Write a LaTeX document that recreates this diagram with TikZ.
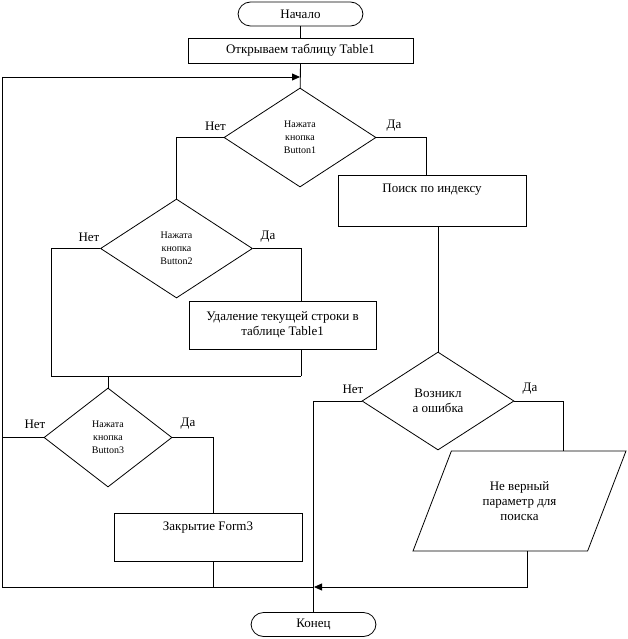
\documentclass[tikz,border=0pt]{standalone}
\usepackage{fontspec}
\setmainfont{Liberation Serif}
\usetikzlibrary{shapes.geometric,arrows.meta}
\begin{document}
\begin{tikzpicture}[x=1pt,y=-1pt,line width=0.8pt,
  every node/.style={font=\fontsize{13}{15}\selectfont},
  term/.style={draw,rectangle,rounded corners=12.5pt,minimum width=125pt,minimum height=24pt,inner sep=0pt},
  proc/.style={draw,rectangle,inner sep=0pt,align=center},
  topproc/.style={draw,rectangle,inner xsep=0pt,inner ysep=3pt,text height=14pt},
  dec/.style={draw,diamond,inner sep=0pt,align=center},
  small/.style={font=\fontsize{10}{13}\selectfont},
  io/.style={draw,trapezium,trapezium left angle=62,trapezium right angle=118,trapezium stretches=true,inner sep=0pt,align=center},
  lab/.style={inner sep=0pt},
  arr/.style={-{Triangle[length=8pt,width=7pt]}}]
\useasboundingbox (0,0) rectangle (627,639);
% nodes
\node[term] (start) at (300.5,14) {Начало};
\node[proc,minimum width=225pt,minimum height=25pt] (open) at (300.5,50.5) {Открываем таблицу Table1};
\node[dec,minimum width=152pt,minimum height=99pt,small,aspect=1.53] (d1) at (300,137.5) {Нажата\\кнопка\\Button1};
\node[topproc,minimum width=188pt,text depth=31pt] (search) at (432,201) {Поиск по индексу};
\node[dec,minimum width=152pt,minimum height=99pt,small,aspect=1.53] (d2) at (176.5,248.5) {Нажата\\кнопка\\Button2};
\node[proc,minimum width=187pt,minimum height=48pt] (del) at (282.5,325) {Удаление текущей строки в\\таблице Table1};
\node[dec,minimum width=128pt,minimum height=99pt,small,aspect=1.29] (d3) at (108,437.5) {Нажата\\кнопка\\Button3};
\node[topproc,minimum width=188pt,text depth=28pt] (close) at (208,537) {Закрытие Form3};
\node[dec,minimum width=152pt,minimum height=98pt,aspect=1.55] (d4) at (438,401) {Возникл\\а ошибка};
\node[io,minimum width=213pt,minimum height=100pt] (para) at (519.5,501) {Не верный\\параметр для\\поиска};
\node[term] (end) at (313.5,624.5) {Конец};
% labels
\node[lab] (n1) at (215.5,126) {Нет};
\node[lab] (y1) at (394,126) {Да};
\node[lab] (n2) at (89,237) {Нет};
\node[lab] (y2) at (268,237) {Да};
\node[lab] (n3) at (35,424) {Нет};
\node[lab] (y3) at (188,424) {Да};
\node[lab] (n4) at (353,389) {Нет};
\node[lab] (y4) at (530,389) {Да};
% junction coordinates
\coordinate (L1) at (2,77);
\coordinate (a1) at (300,77);
\coordinate (L2) at (2,587);
\coordinate (k1) at (51,376);
\coordinate (m1) at (301,376);
\coordinate (c2) at (213,587);
\coordinate (m2) at (314,587);
% connectors
\draw (start) -- (open);
\draw (open) -- (d1);
\draw[arr] (L1) -- (a1);
\draw (L1) -- (L2) -- (m2);
\draw (d1.west) -| (d2.north);
\draw (d1.east) -| ([xshift=-6]search.north);
\draw (d4.north |- search.south) -- (d4.north);
\draw (d2.west) -| (k1) -- (m1);
\draw (d2.east) -| (del.north -| m1);
\draw (del.south -| m1) -- (m1);
\draw (d3.north |- m1) -- (d3.north);
\draw (d3.west) -- (d3.west -| L1);
\draw (d3.east) -| (close.north -| c2);
\draw (close.south -| c2) -- (c2);
\draw (d4.west) -| (end.north);
\draw (d4.east) -| ([xshift=43.5]para.north);
\draw[arr] ([xshift=7.5]para.south) |- (m2);
\end{tikzpicture}
\end{document}
